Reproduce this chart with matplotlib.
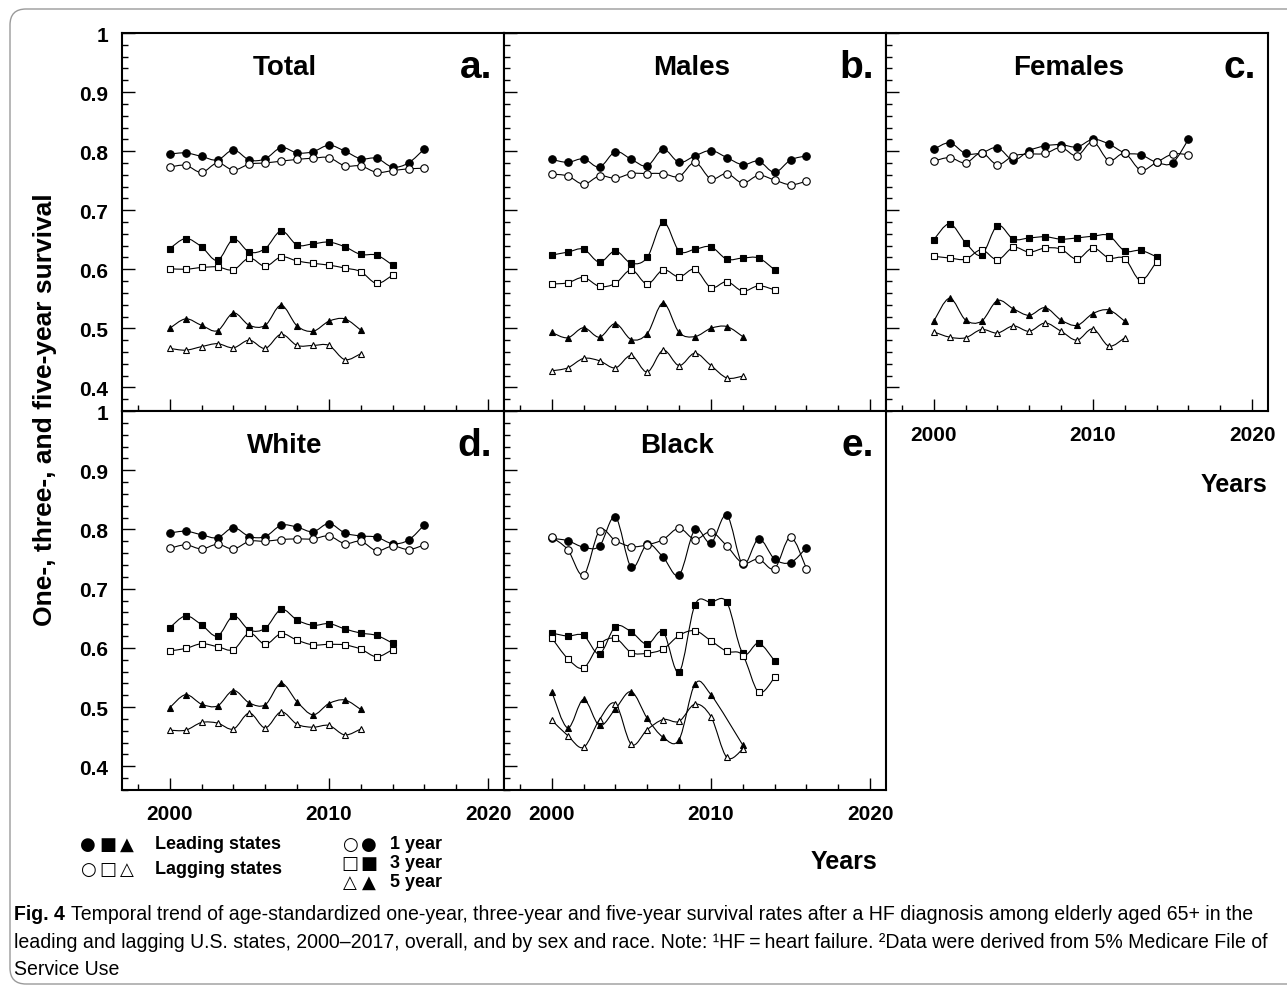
import numpy as np
import matplotlib
matplotlib.use("Agg")
import matplotlib.pyplot as plt
from matplotlib.path import Path
from matplotlib.patches import PathPatch, FancyBboxPatch
from matplotlib.ticker import MultipleLocator, FixedLocator, FixedFormatter
from matplotlib.transforms import IdentityTransform

plt.rcParams['font.family'] = ['Liberation Sans', 'DejaVu Sans']
plt.rcParams['font.weight'] = 'bold'

nan = np.nan
years = np.arange(2000, 2017)

# panel a - total
total_lead_1 = [0.795, 0.797, 0.791, 0.785, 0.802, 0.785, 0.787, 0.806, 0.797, 0.799, 0.810, 0.800, 0.787, 0.788, 0.773, 0.780, 0.804]
total_lag_1 = [0.773, 0.776, 0.764, 0.780, 0.768, 0.778, 0.780, 0.783, 0.786, 0.788, 0.789, 0.775, 0.775, 0.764, 0.767, 0.770, 0.771]
total_lead_3 = [0.635, 0.652, 0.638, 0.615, 0.651, 0.629, 0.635, 0.665, 0.641, 0.643, 0.646, 0.638, 0.625, 0.624, 0.607]
total_lag_3 = [0.601, 0.600, 0.603, 0.604, 0.599, 0.619, 0.605, 0.621, 0.614, 0.610, 0.607, 0.602, 0.596, 0.576, 0.590]
total_lead_5 = [0.500, 0.516, 0.505, 0.496, 0.526, 0.505, 0.505, 0.539, 0.504, 0.495, 0.512, 0.516, 0.497]
total_lag_5 = [0.466, 0.463, 0.469, 0.474, 0.467, 0.480, 0.466, 0.490, 0.471, 0.471, 0.471, 0.447, 0.457]

# panel b - males
male_lead_1 = [0.786, 0.781, 0.787, 0.773, 0.799, 0.786, 0.775, 0.803, 0.781, 0.792, 0.801, 0.789, 0.777, 0.783, 0.764, 0.785, 0.792]
male_lag_1 = [0.761, 0.758, 0.744, 0.758, 0.754, 0.762, 0.762, 0.762, 0.757, 0.781, 0.753, 0.762, 0.746, 0.759, 0.751, 0.743, 0.749]
male_lead_3 = [0.624, 0.629, 0.634, 0.612, 0.631, 0.610, 0.620, 0.680, 0.631, 0.634, 0.638, 0.617, 0.619, 0.619, 0.599]
male_lag_3 = [0.575, 0.577, 0.586, 0.571, 0.576, 0.599, 0.575, 0.599, 0.587, 0.600, 0.569, 0.579, 0.563, 0.572, 0.565]
male_lead_5 = [0.493, 0.484, 0.501, 0.485, 0.508, 0.481, 0.491, 0.543, 0.493, 0.486, 0.500, 0.503, 0.486]
male_lag_5 = [0.428, 0.433, 0.449, 0.445, 0.433, 0.454, 0.426, 0.463, 0.437, 0.458, 0.437, 0.416, 0.419]

# panel c - females
female_lead_1 = [0.803, 0.814, 0.796, 0.797, 0.806, 0.785, 0.801, 0.809, 0.811, 0.807, 0.820, 0.812, 0.797, 0.794, 0.781, 0.780, 0.820]
female_lag_1 = [0.783, 0.789, 0.780, 0.797, 0.777, 0.792, 0.795, 0.796, 0.806, 0.792, 0.816, 0.784, 0.796, 0.768, 0.781, 0.795, 0.794]
female_lead_3 = [0.650, 0.677, 0.645, 0.624, 0.674, 0.651, 0.653, 0.655, 0.651, 0.653, 0.656, 0.657, 0.631, 0.632, 0.621]
female_lag_3 = [0.622, 0.619, 0.617, 0.633, 0.616, 0.637, 0.629, 0.636, 0.634, 0.617, 0.636, 0.619, 0.618, 0.581, 0.613]
female_lead_5 = [0.512, 0.551, 0.514, 0.512, 0.547, 0.533, 0.522, 0.535, 0.514, 0.505, 0.525, 0.531, 0.512]
female_lag_5 = [0.494, 0.485, 0.484, 0.498, 0.492, 0.504, 0.495, 0.509, 0.495, 0.480, 0.499, 0.470, 0.484]

# panel d - white
white_lead_1 = [0.794, 0.797, 0.791, 0.786, 0.803, 0.788, 0.788, 0.807, 0.804, 0.796, 0.810, 0.794, 0.789, 0.787, 0.776, 0.782, 0.808]
white_lag_1 = [0.768, 0.774, 0.767, 0.775, 0.767, 0.780, 0.780, 0.783, 0.784, 0.784, 0.789, 0.776, 0.780, 0.764, 0.772, 0.766, 0.774]
white_lead_3 = [0.634, 0.654, 0.639, 0.620, 0.654, 0.630, 0.633, 0.665, 0.647, 0.638, 0.641, 0.632, 0.625, 0.621, 0.608]
white_lag_3 = [0.595, 0.599, 0.607, 0.602, 0.597, 0.625, 0.606, 0.624, 0.613, 0.605, 0.606, 0.605, 0.598, 0.585, 0.597]
white_lead_5 = [0.499, 0.521, 0.505, 0.502, 0.528, 0.507, 0.504, 0.540, 0.509, 0.487, 0.506, 0.512, 0.496]
white_lag_5 = [0.461, 0.461, 0.474, 0.473, 0.463, 0.490, 0.465, 0.492, 0.471, 0.466, 0.469, 0.453, 0.463]

# panel e - black
black_lead_1 = [0.785, 0.781, 0.770, 0.772, 0.821, 0.736, 0.775, 0.753, 0.723, 0.800, 0.777, 0.824, 0.741, 0.784, 0.750, 0.744, 0.769]
black_lag_1 = [0.787, 0.766, 0.723, 0.798, 0.781, 0.771, 0.774, 0.783, 0.802, 0.783, 0.796, 0.772, 0.743, 0.750, 0.734, 0.787, 0.734]
black_lead_3 = [0.625, 0.620, 0.621, 0.590, 0.636, 0.627, 0.606, 0.627, 0.559, 0.673, 0.677, 0.677, 0.591, 0.608, 0.578]
black_lag_3 = [0.617, 0.582, 0.566, 0.606, 0.616, 0.592, 0.591, 0.598, 0.621, 0.629, 0.612, 0.594, 0.587, 0.525, 0.550]
black_lead_5 = [0.526, 0.465, 0.513, 0.469, 0.497, 0.526, 0.481, 0.449, 0.445, 0.539, 0.521, nan, 0.436]
black_lag_5 = [0.478, 0.452, 0.432, 0.479, 0.506, 0.437, 0.462, 0.479, 0.476, 0.505, 0.484, 0.415, 0.429]

panels = [
    ("Total", "a.", [total_lead_1, total_lag_1, total_lead_3, total_lag_3, total_lead_5, total_lag_5]),
    ("Males", "b.", [male_lead_1, male_lag_1, male_lead_3, male_lag_3, male_lead_5, male_lag_5]),
    ("Females", "c.", [female_lead_1, female_lag_1, female_lead_3, female_lag_3, female_lead_5, female_lag_5]),
    ("White", "d.", [white_lead_1, white_lag_1, white_lead_3, white_lag_3, white_lead_5, white_lag_5]),
    ("Black", "e.", [black_lead_1, black_lag_1, black_lead_3, black_lag_3, black_lead_5, black_lag_5]),
]
markers = ['o', 'o', 's', 's', '^', '^']
fills = ['black', 'white', 'black', 'white', 'black', 'white']
ytick_vals = [0.4, 0.5, 0.6, 0.7, 0.8, 0.9, 1.0]
ytick_labels = ['0.4', '0.5', '0.6', '0.7', '0.8', '0.9', '1']

W, H = 1287, 987


def smooth_line(ax, x, y):
    # catmull-rom curve through the points, drawn as cubic bezier
    p = np.array([(a, b) for a, b in zip(x, y) if not np.isnan(b)])
    ext = np.vstack([p[0], p, p[-1]])
    verts, codes = [p[0]], [Path.MOVETO]
    for i in range(1, len(ext) - 2):
        p0, p1, p2, p3 = ext[i - 1], ext[i], ext[i + 1], ext[i + 2]
        verts += [p1 + (p2 - p0) / 6, p2 - (p3 - p1) / 6, p2]
        codes += [Path.CURVE4] * 3
    ax.add_patch(PathPatch(Path(verts, codes), fill=False, lw=0.8, edgecolor='black', zorder=2))


fig = plt.figure(figsize=(W / 100, H / 100), dpi=100)

cols = [122, 504, 886]
rows = [(34, 412), (412, 791)]
title_x = [0.427, 0.49, 0.479, 0.427, 0.453]

for k, (name, letter, series) in enumerate(panels):
    r, c = divmod(k, 3)
    x0 = cols[c]
    top, bot = rows[r]
    ax = fig.add_axes([x0 / W, 1 - bot / H, 382 / W, (bot - top) / H])
    for s, m, fc in zip(series, markers, fills):
        yrs = years[:len(s)]
        smooth_line(ax, yrs, s)
        ax.plot(yrs, s, ls='none', marker=m, ms=5.4 if m == 'o' else 5.0,
                mfc=fc, mec='black', mew=0.8, zorder=3)
    ax.set_xlim(1997, 2021)
    ax.set_ylim(0.36, 1.0)
    ax.xaxis.set_major_locator(FixedLocator([2000, 2010, 2020]))
    ax.xaxis.set_minor_locator(MultipleLocator(2))
    ax.yaxis.set_major_locator(FixedLocator(ytick_vals))
    ax.yaxis.set_major_formatter(FixedFormatter(ytick_labels))
    ax.yaxis.set_minor_locator(MultipleLocator(0.02))
    ax.tick_params(which='both', direction='in', top=False, right=False, width=1.0)
    ax.tick_params(which='major', length=9, labelsize=15, pad=10)
    ax.tick_params(which='minor', length=4.5)
    for sp in ax.spines.values():
        sp.set_linewidth(1.5)
    if c != 0:
        ax.tick_params(labelleft=False)
    if k in (0, 1):
        ax.tick_params(labelbottom=False)
    for lab in ax.get_xticklabels() + ax.get_yticklabels():
        lab.set_fontweight('bold')
    ax.text(title_x[k], 0.91, name, transform=ax.transAxes, ha='center', va='center',
            fontsize=20, fontweight='bold')
    ax.text(0.969, 0.91, letter, transform=ax.transAxes, ha='right', va='center',
            fontsize=28, fontweight='bold')

fig.text(45 / W, 1 - 410 / H, "One-, three-, and five-year survival", rotation=90,
         ha='center', va='center', fontsize=19, fontweight='bold')
fig.text(1267 / W, 1 - 485 / H, "Years", ha='right', va='center', fontsize=18, fontweight='bold')
fig.text(877 / W, 1 - 862 / H, "Years", ha='right', va='center', fontsize=18, fontweight='bold')

# legend keys
glyph_font = ['DejaVu Sans']
gfs = 13
for gx, g in zip([88, 108, 127], ['\u25cf', '\u25a0', '\u25b2']):
    fig.text(gx / W, 1 - 845 / H, g, ha='center', va='center', fontsize=gfs, family=glyph_font)
for gx, g in zip([88, 108, 127], ['\u25cb', '\u25a1', '\u25b3']):
    fig.text(gx / W, 1 - 870 / H, g, ha='center', va='center', fontsize=gfs, family=glyph_font)
fig.text(155 / W, 1 - 845 / H, "Leading states", ha='left', va='center', fontsize=13, fontweight='bold')
fig.text(155 / W, 1 - 870 / H, "Lagging states", ha='left', va='center', fontsize=13, fontweight='bold')
for gy, pair, lab in zip([845, 864, 883], [('\u25cb', '\u25cf'), ('\u25a1', '\u25a0'), ('\u25b3', '\u25b2')],
                         ["1 year", "3 year", "5 year"]):
    fig.text(350 / W, 1 - gy / H, pair[0], ha='center', va='center', fontsize=gfs, family=glyph_font)
    fig.text(369 / W, 1 - gy / H, pair[1], ha='center', va='center', fontsize=gfs, family=glyph_font)
    fig.text(390 / W, 1 - gy / H, lab, ha='left', va='center', fontsize=13, fontweight='bold')

# caption, sized so the first line ends where the reference's does
cap_lines = [
    "Temporal trend of age-standardized one-year, three-year and five-year survival rates after a HF diagnosis among elderly aged 65+ in the",
    "leading and lagging U.S. states, 2000\u20132017, overall, and by sex and race. Note: \u00b9HF\u2009=\u2009heart failure. \u00b2Data were derived from 5% Medicare File of",
    "Service Use",
]
cap_fs = 14
renderer = fig.canvas.get_renderer()
fig_lab = fig.text(14 / W, 1 - 915 / H, "Fig. 4", ha='left', va='center', fontsize=cap_fs,
                   fontweight='bold')
bb = fig_lab.get_window_extent(renderer)
line1 = fig.text((bb.x1 + 7) / W, 1 - 915 / H, cap_lines[0], ha='left', va='center',
                 fontsize=cap_fs, fontweight='normal')
w1 = line1.get_window_extent(renderer).width
scale = (1262 - 14) / (bb.width + 7 + w1)
cap_fs = cap_fs * scale
fig_lab.set_fontsize(cap_fs)
bb = fig_lab.get_window_extent(renderer)
line1.set_fontsize(cap_fs)
line1.set_x((bb.x1 + 6) / W)
fig.text(14 / W, 1 - 943 / H, cap_lines[1], ha='left', va='center', fontsize=cap_fs,
         fontweight='normal')
fig.text(14 / W, 1 - 970 / H, cap_lines[2], ha='left', va='center', fontsize=cap_fs,
         fontweight='normal')

frame = FancyBboxPatch((10, 2), 1320, 975, boxstyle="round,pad=0,rounding_size=16",
                       transform=IdentityTransform(), fill=False, edgecolor='#9a9a9a', lw=1.0)
fig.patches.append(frame)

fig.savefig("out.png", dpi=100)
